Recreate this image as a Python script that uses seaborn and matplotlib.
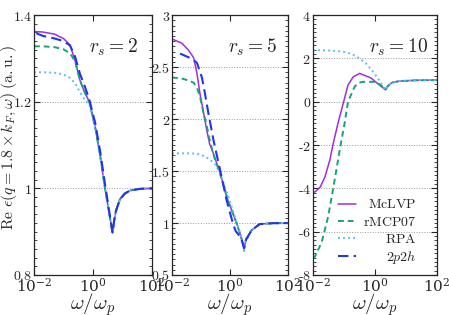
import matplotlib
matplotlib.use("Agg")
import matplotlib.pyplot as plt
import seaborn as sns
from matplotlib.ticker import AutoMinorLocator, FixedLocator, FuncFormatter

# ---- data (omega / omega_p, Re eps) ----
OMEGA_RS2 = [0.01, 0.02, 0.05, 0.1, 0.166, 0.245, 0.36, 0.5, 0.75, 1.2, 1.8, 2.55, 3.5, 4.6, 5.2, 6.0, 8.2, 12, 18, 40, 100]
MCLVP_RS2 = [1.362, 1.361, 1.356, 1.346, 1.331, 1.296, 1.25, 1.225, 1.20, 1.14, 1.07, 1.0, 0.945, 0.897, 0.925, 0.948, 0.975, 0.988, 0.995, 0.999, 1.0]
RMCP07_RS2 = [1.328, 1.328, 1.326, 1.321, 1.312, 1.294, 1.25, 1.225, 1.20, 1.14, 1.07, 1.0, 0.945, 0.897, 0.925, 0.948, 0.975, 0.988, 0.995, 0.999, 1.0]
RPA_RS2 = [1.268, 1.268, 1.267, 1.263, 1.255, 1.243, 1.222, 1.207, 1.193, 1.14, 1.07, 1.0, 0.945, 0.897, 0.925, 0.948, 0.975, 0.988, 0.995, 0.999, 1.0]
OMEGA_2P2H_RS2 = [0.012, 0.02, 0.05, 0.1, 0.166, 0.245, 0.36, 0.5, 0.75, 1.2, 1.8, 2.55, 3.5, 4.6, 5.2, 6.0, 8.2, 12, 18, 40, 100]
TWOP2H_RS2 = [1.358, 1.352, 1.346, 1.340, 1.330, 1.305, 1.265, 1.24, 1.205, 1.15, 1.08, 1.01, 0.95, 0.897, 0.925, 0.948, 0.975, 0.988, 0.995, 0.999, 1.0]

OMEGA_RS5 = [0.01, 0.022, 0.038, 0.056, 0.073, 0.092, 0.123, 0.16, 0.2, 0.26, 0.3, 0.45, 0.85, 1.7, 2.4, 3.1, 3.6, 5.6, 10.7, 30, 100]
MCLVP_RS5 = [2.77, 2.73, 2.66, 2.59, 2.44, 2.25, 2.06, 1.89, 1.76, 1.68, 1.63, 1.49, 1.22, 1.0, 0.87, 0.76, 0.84, 0.93, 0.99, 0.998, 1.0]
RMCP07_RS5 = [2.40, 2.39, 2.37, 2.35, 2.30, 2.22, 2.06, 1.93, 1.80, 1.68, 1.62, 1.48, 1.22, 1.0, 0.87, 0.75, 0.84, 0.93, 0.99, 0.998, 1.0]
RPA_RS5 = [1.67, 1.67, 1.67, 1.668, 1.665, 1.66, 1.645, 1.63, 1.61, 1.585, 1.57, 1.48, 1.27, 1.01, 0.88, 0.73, 0.83, 0.93, 0.99, 0.998, 1.0]
OMEGA_2P2H_RS5 = [0.019, 0.049, 0.073, 0.108, 0.137, 0.18, 0.27, 0.45, 0.77, 1.26, 1.6, 2.4, 3.1, 3.6, 5.6, 10.7, 30, 100]
TWOP2H_RS5 = [2.63, 2.58, 2.54, 2.40, 2.25, 2.06, 1.80, 1.52, 1.22, 1.0, 0.92, 0.86, 0.76, 0.84, 0.93, 0.99, 0.998, 1.0]

OMEGA_MCLVP_RS10 = [0.01, 0.012, 0.017, 0.024, 0.035, 0.044, 0.064, 0.098, 0.135, 0.2, 0.32, 0.74, 1.4, 2.2, 2.6, 3.5, 6, 20, 100]
MCLVP_RS10 = [-4.2, -4.15, -3.95, -3.5, -2.7, -2.0, -1.0, 0.0, 0.77, 1.15, 1.31, 1.1, 0.77, 0.55, 0.72, 0.88, 0.95, 0.99, 1.0]
OMEGA_RMCP07_RS10 = [0.01, 0.0116, 0.019, 0.031, 0.045, 0.078, 0.105, 0.135, 0.22, 0.3, 0.41, 1.07, 1.6, 2.2, 2.6, 3.5, 6, 20, 100]
RMCP07_RS10 = [-7.25, -7.15, -6.5, -5.3, -4.0, -2.0, -1.0, 0.0, 0.69, 0.88, 0.92, 0.92, 0.75, 0.57, 0.72, 0.88, 0.95, 0.99, 1.0]
OMEGA_RPA_RS10 = [0.01, 0.03, 0.073, 0.13, 0.24, 0.51, 1.0, 1.6, 2.2, 2.6, 3.5, 6, 20, 100]
RPA_RS10 = [2.38, 2.37, 2.33, 2.27, 2.12, 1.78, 1.28, 0.85, 0.54, 0.72, 0.88, 0.95, 0.99, 1.0]

PANEL_LABELS = [r"$r_s=2$", r"$r_s=5$", r"$r_s=10$"]
YLIMS = [(0.8, 1.4), (0.5, 3.0), (-8.0, 4.0)]
YTICKS = [[0.8, 1.0, 1.2, 1.4], [0.5, 1.0, 1.5, 2.0, 2.5, 3.0], [-8, -6, -4, -2, 0, 2, 4]]
SERIES_NAMES = ["McLVP", "rMCP07", "RPA", "2p2h"]
LEGEND_LABELS = [r"$\mathrm{McLVP}$", r"$\mathrm{rMCP07}$", r"$\mathrm{RPA}$", r"$2p2h$"]

STYLES = {
    "McLVP": dict(color="#a22de0", lw=1.1, dashes=None),
    "rMCP07": dict(color="#16a37c", lw=1.4, dashes=(3, 2)),
    "RPA": dict(color="#5cbff2", lw=1.4, dashes=(1, 1.6)),
    "2p2h": dict(color="#2136e8", lw=1.5, dashes=(5, 2.5)),
}

panels = [
    {"McLVP": (OMEGA_RS2, MCLVP_RS2), "rMCP07": (OMEGA_RS2, RMCP07_RS2),
     "RPA": (OMEGA_RS2, RPA_RS2), "2p2h": (OMEGA_2P2H_RS2, TWOP2H_RS2)},
    {"McLVP": (OMEGA_RS5, MCLVP_RS5), "rMCP07": (OMEGA_RS5, RMCP07_RS5),
     "RPA": (OMEGA_RS5, RPA_RS5), "2p2h": (OMEGA_2P2H_RS5, TWOP2H_RS5)},
    {"McLVP": (OMEGA_MCLVP_RS10, MCLVP_RS10), "rMCP07": (OMEGA_RMCP07_RS10, RMCP07_RS10),
     "RPA": (OMEGA_RPA_RS10, RPA_RS10)},
]

sns.set_style("ticks")
plt.rcParams.update({
    "font.family": "serif",
    "font.serif": ["DejaVu Serif"],
    "mathtext.fontset": "cm",
    "axes.linewidth": 0.9,
})

fig = plt.figure(figsize=(4.49, 3.15), dpi=100)
rects = [(0.0757, 0.127, 0.2628, 0.825),
         (0.383, 0.127, 0.258, 0.825),
         (0.697, 0.127, 0.276, 0.825)]


def fmt_y(v, pos):
    s = f"{v:g}"
    if s.startswith("-"):
        return r"$\text{-}" + s[1:] + "$"
    return f"${s}$"


handles = {}
axes = []
for i, (rect, data) in enumerate(zip(rects, panels)):
    ax = fig.add_axes(rect)
    axes.append(ax)
    for name in SERIES_NAMES:
        if name not in data:
            continue
        xs, ys = data[name]
        st = STYLES[name]
        sns.lineplot(x=xs, y=ys, ax=ax, color=st["color"], lw=st["lw"],
                     legend=False, sort=True)
        line = ax.lines[-1]
        if st["dashes"] is not None:
            line.set_dashes(st["dashes"])
        handles.setdefault(name, line)

    ax.set_xscale("log")
    ax.set_xlim(0.01, 100)
    ax.set_ylim(*YLIMS[i])
    ax.yaxis.set_major_locator(FixedLocator(YTICKS[i]))
    ax.yaxis.set_major_formatter(FuncFormatter(fmt_y))
    ax.yaxis.set_minor_locator(AutoMinorLocator(10))
    ax.grid(axis="y", which="major", ls=":", color="#999999", lw=0.7)
    ax.tick_params(which="both", direction="in", top=True, right=True, pad=1.5)
    ax.tick_params(axis="x", labelsize=11)
    ax.tick_params(axis="y", labelsize=10)
    ax.tick_params(which="major", length=4, width=0.8)
    ax.tick_params(which="minor", length=2, width=0.6)
    ax.set_xlabel(r"$\omega/\omega_p$", fontsize=15, labelpad=-3)
    ax.set_ylabel("")
    ax.text([0.885, 0.905, 0.93][i], 0.875, PANEL_LABELS[i], transform=ax.transAxes,
            ha="right", va="center", fontsize=14)

axes[0].set_ylabel(r"$\mathrm{Re}\ \epsilon(q=1.8\times k_F,\omega)\ \mathrm{(a.u.)}$",
                   fontsize=11.3)
axes[0].yaxis.set_label_coords(-0.125, 0.53)

leg = axes[2].legend([handles[n] for n in SERIES_NAMES], LEGEND_LABELS,
                     loc="lower left", bbox_to_anchor=(0.1, -0.012), frameon=False,
                     fontsize=10, handlelength=1.3, handletextpad=0.5,
                     labelspacing=0.22, borderpad=0.4)
fig.canvas.draw()
renderer = fig.canvas.get_renderer()
widths = [t.get_window_extent(renderer).width for t in leg.get_texts()]
shift = max(widths)
for t, w in zip(leg.get_texts(), widths):
    t.set_position((shift - w, 0))

fig.savefig("out.png", dpi=100)
